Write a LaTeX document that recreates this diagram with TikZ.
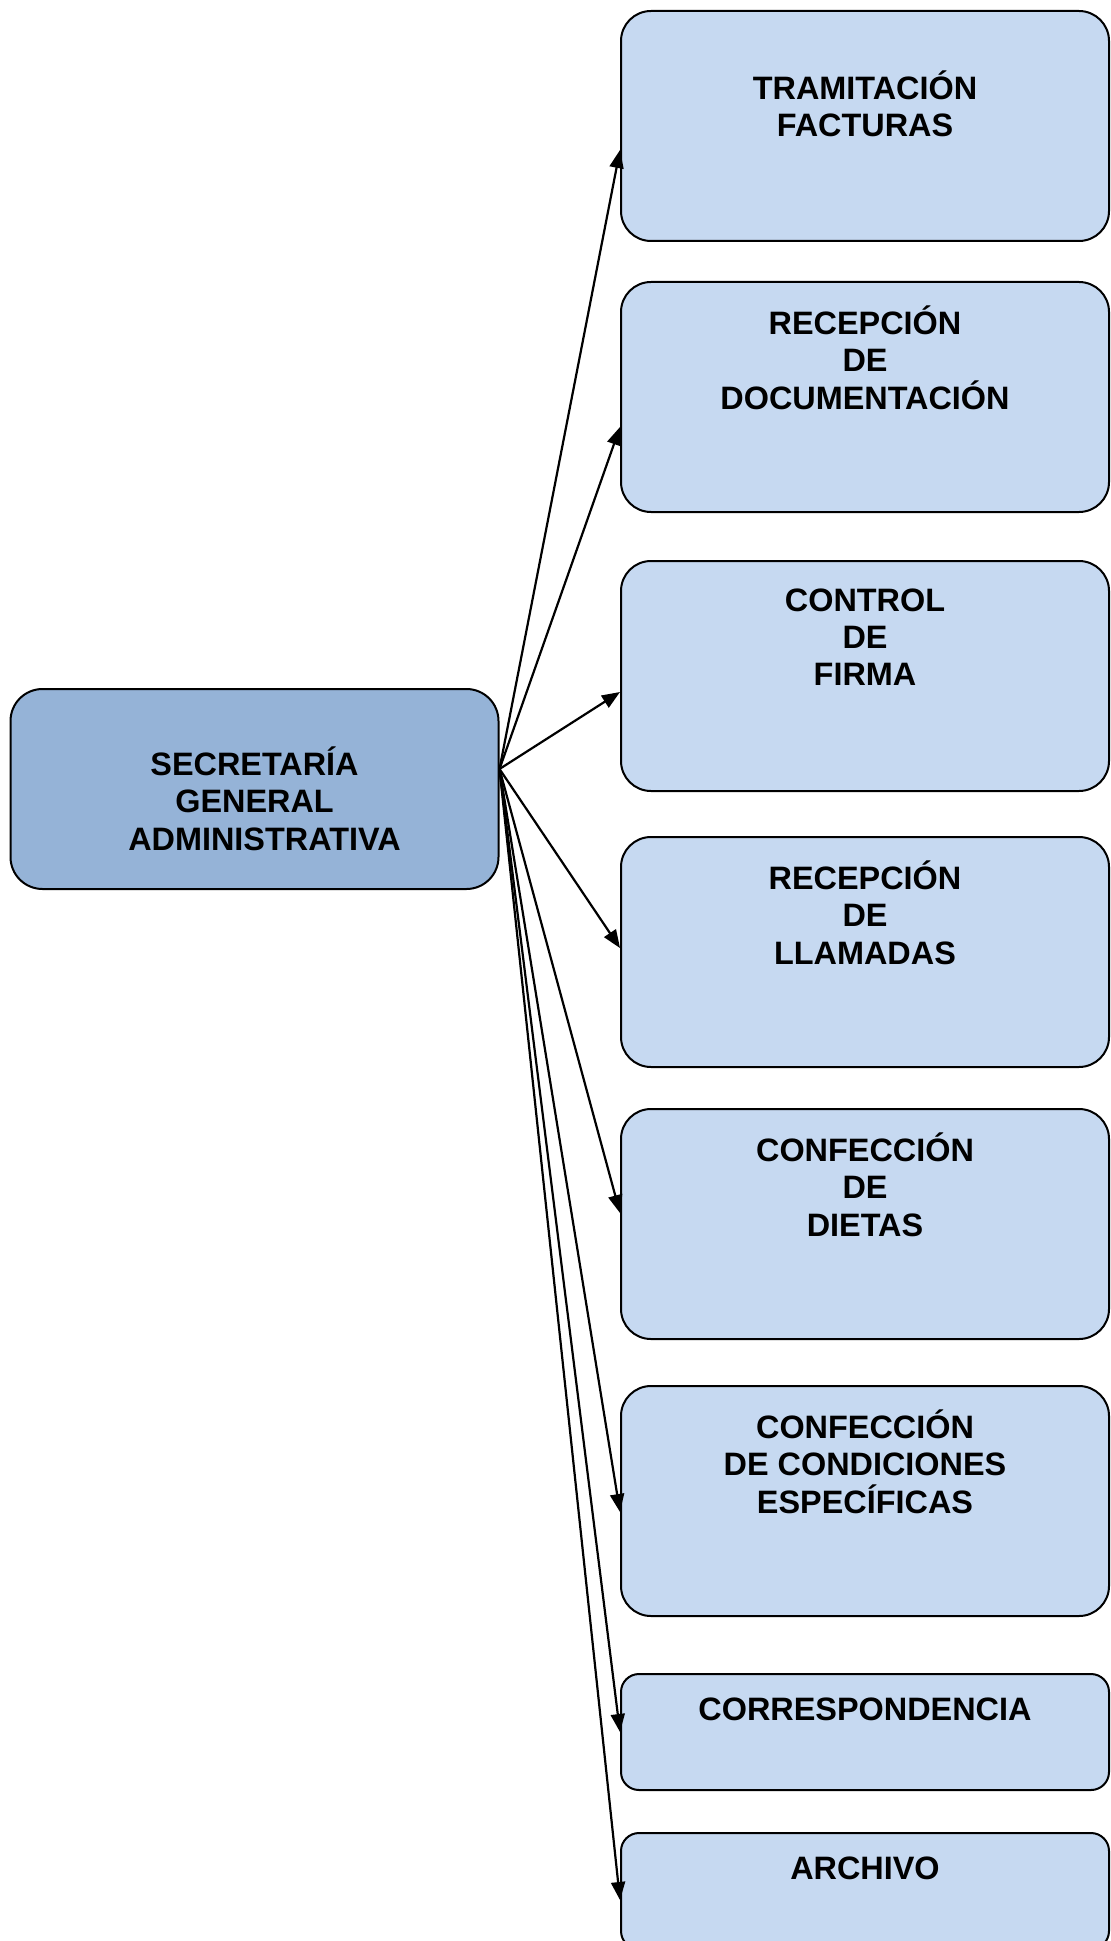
\documentclass[tikz,border=0pt]{standalone}
\usepackage{fontspec}
\setmainfont{Liberation Sans}
\usetikzlibrary{arrows.meta}
\definecolor{jefe}{HTML}{95B3D7}
\definecolor{area}{HTML}{C6D9F1}
\begin{document}
\begin{tikzpicture}[x=0.5pt,y=-0.5pt,>={Triangle[length=9pt,width=7pt]},
  caja/.style={draw,line width=1pt,rounded corners=15pt,fill=area,minimum width=244pt,minimum height=115pt,inner sep=0pt},
  texto/.style={anchor=north,inner sep=0pt,align=center,font=\bfseries\fontsize{16.2}{18.6}\selectfont,yshift=-12.3pt}]
\useasboundingbox (0,0) rectangle (1110,1941);
\node[caja,fill=jefe,rounded corners=16pt,minimum height=100pt,label={[texto,yshift=-17pt]north:\strut SECRETARÍA\\GENERAL\\\hspace*{10pt}ADMINISTRATIVA}] (0) at (254.5,789) {};
\node[caja,label={[texto,yshift=-17.8pt]north:\strut TRAMITACIÓN\\FACTURAS}] (1) at (865,126) {};
\node[caja,label={[texto]north:\strut RECEPCIÓN\\DE\\DOCUMENTACIÓN}] (2) at (865,397) {};
\node[caja,label={[texto]north:\strut CONTROL\\DE\\FIRMA}] (3) at (865,676) {};
\node[caja,label={[texto]north:\strut RECEPCIÓN\\DE\\LLAMADAS}] (4) at (865,952) {};
\node[caja,label={[texto]north:\strut CONFECCIÓN\\DE\\DIETAS}] (5) at (865,1224) {};
\node[caja,label={[texto]north:\strut CONFECCIÓN\\DE CONDICIONES\\ESPECÍFICAS}] (6) at (865,1501) {};
\node[caja,rounded corners=9pt,minimum height=58pt,label={[texto,yshift=2pt]north:\strut CORRESPONDENCIA}] (7) at (865,1732) {};
\node[caja,rounded corners=9pt,minimum height=58pt,label={[texto,yshift=2pt]north:\strut ARCHIVO}] (8) at (865,1891) {};
\path[draw,line width=1.1pt,->] ([yshift=10pt]0.east) -- ([yshift=-12pt]1.west);
\path[draw,line width=1.1pt,->] ([yshift=10pt]0.east) -- ([yshift=-15pt]2.west);
\path[draw,line width=1.1pt,->] ([yshift=10pt]0.east) -- ([yshift=-8pt]3.west);
\path[draw,line width=1.1pt,->] ([yshift=10pt]0.east) -- ([yshift=2pt]4.west);
\path[draw,line width=1.1pt,->] ([yshift=10pt]0.east) -- ([yshift=5.5pt]5.west);
\path[draw,line width=1.1pt,->] ([yshift=10pt]0.east) -- ([yshift=-5.5pt]6.west);
\path[draw,line width=1.1pt,->] ([yshift=10pt]0.east) -- (7.west);
\path[draw,line width=1.1pt,->] ([yshift=10pt]0.east) -- ([yshift=-4.5pt]8.west);
\end{tikzpicture}
\end{document}
